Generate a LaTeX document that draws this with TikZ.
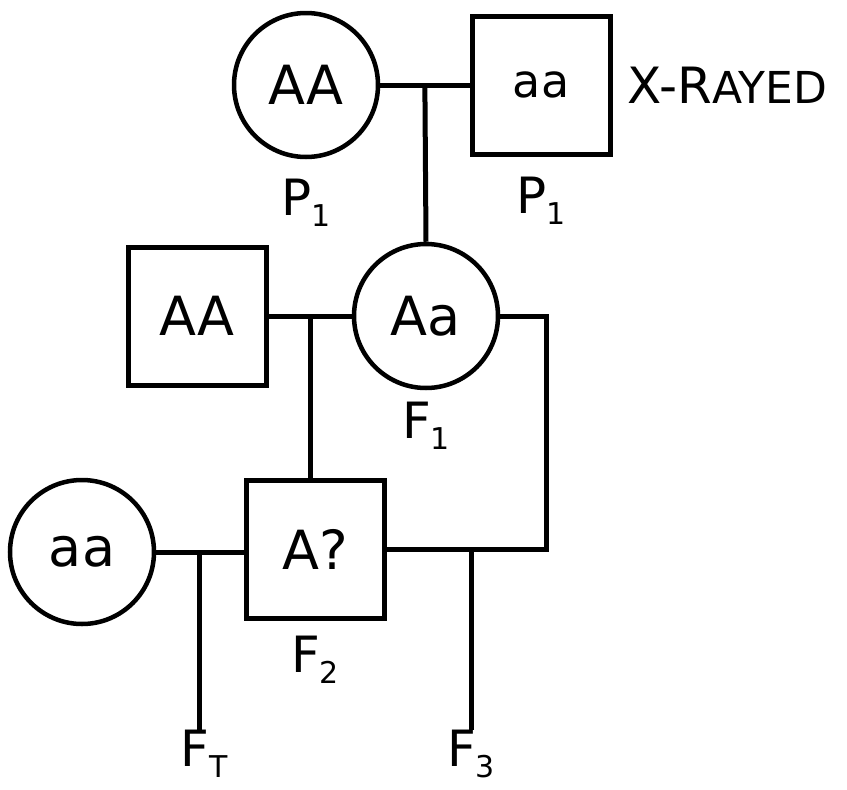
\documentclass[tikz,border=0pt]{standalone}
\usepackage{fontspec}
\setmainfont{DejaVu Sans}
\usetikzlibrary{positioning,calc}
\tikzstyle{female} = [draw, circle, line width=4.5pt, minimum size=144pt, inner sep=0pt, font=\fontsize{54}{60}\selectfont]
\tikzstyle{male} = [draw, rectangle, line width=5pt, minimum size=138pt, inner sep=0pt, font=\fontsize{54}{60}\selectfont]
\tikzstyle{gen} = [inner sep=0pt, font=\fontsize{50}{54}\selectfont]
\tikzstyle{line} = [line width=5pt]
\newcommand{\gsub}[1]{\raisebox{-11pt}{\fontsize{30}{32}\selectfont #1}}

\begin{document}
\begin{tikzpicture}[x=1pt, y=-1pt, node distance=20pt]
    \useasboundingbox (0,0) rectangle (847,790);
    % P1
    \node [female] (P1f) at (306,85) {AA};
    \node [male] (P1m) at (541,85) {\fontsize{46}{50}\selectfont aa};
    \node [gen, right=15pt of P1m] (xray) {X-R{\fontsize{44}{50}\selectfont AYED}};
    \node [gen, below=20pt of P1f] (labP1f) {P\gsub{1}};
    \node [gen, below=20pt of P1m] (labP1m) {P\gsub{1}};
    % F1
    \node [male] (F1m) at (197,316) {AA};
    \node [female] (F1f) at (426,316) {Aa};
    \node [gen, below=12pt of F1f] (labF1) {F\gsub{1}};
    % F2
    \node [female] (F2f) at (82,552) {aa};
    \node [male] (F2m) at (315,549) {A?};
    \node [gen, below=15pt of F2m] (labF2) {F\gsub{2}};
    % offspring
    \node [gen] (FT) at (204,754) {F\gsub{T}};
    \node [gen] (F3) at (471,754) {F\gsub{3}};

    % Connections
    \coordinate (m1) at ($(P1f.east)!0.5!(P1m.west)$);
    \coordinate (m2) at ($(F1m.east)!0.5!(F1f.west)$);
    \coordinate (m3) at ($(F2f.east)!0.5!(F2m.west)$);
    \coordinate (rc) at (546,549);
    \draw [line] (P1f) -- (P1m);
    \draw [line] (m1) -- (F1f.north);
    \draw [line] (F1m) -- (F1f);
    \draw [line] (m2) -- (m2 |- F2m.north);
    \draw [line] (F1f.east) -| (rc) -- (F2m.east);
    \draw [line] (F2f.east) -- (F2m.west |- F2f.east);
    \draw [line] (m3) -- (m3 |- FT.north);
    \draw [line] (F3.north |- rc) -- (F3.north);
\end{tikzpicture}
\end{document}
